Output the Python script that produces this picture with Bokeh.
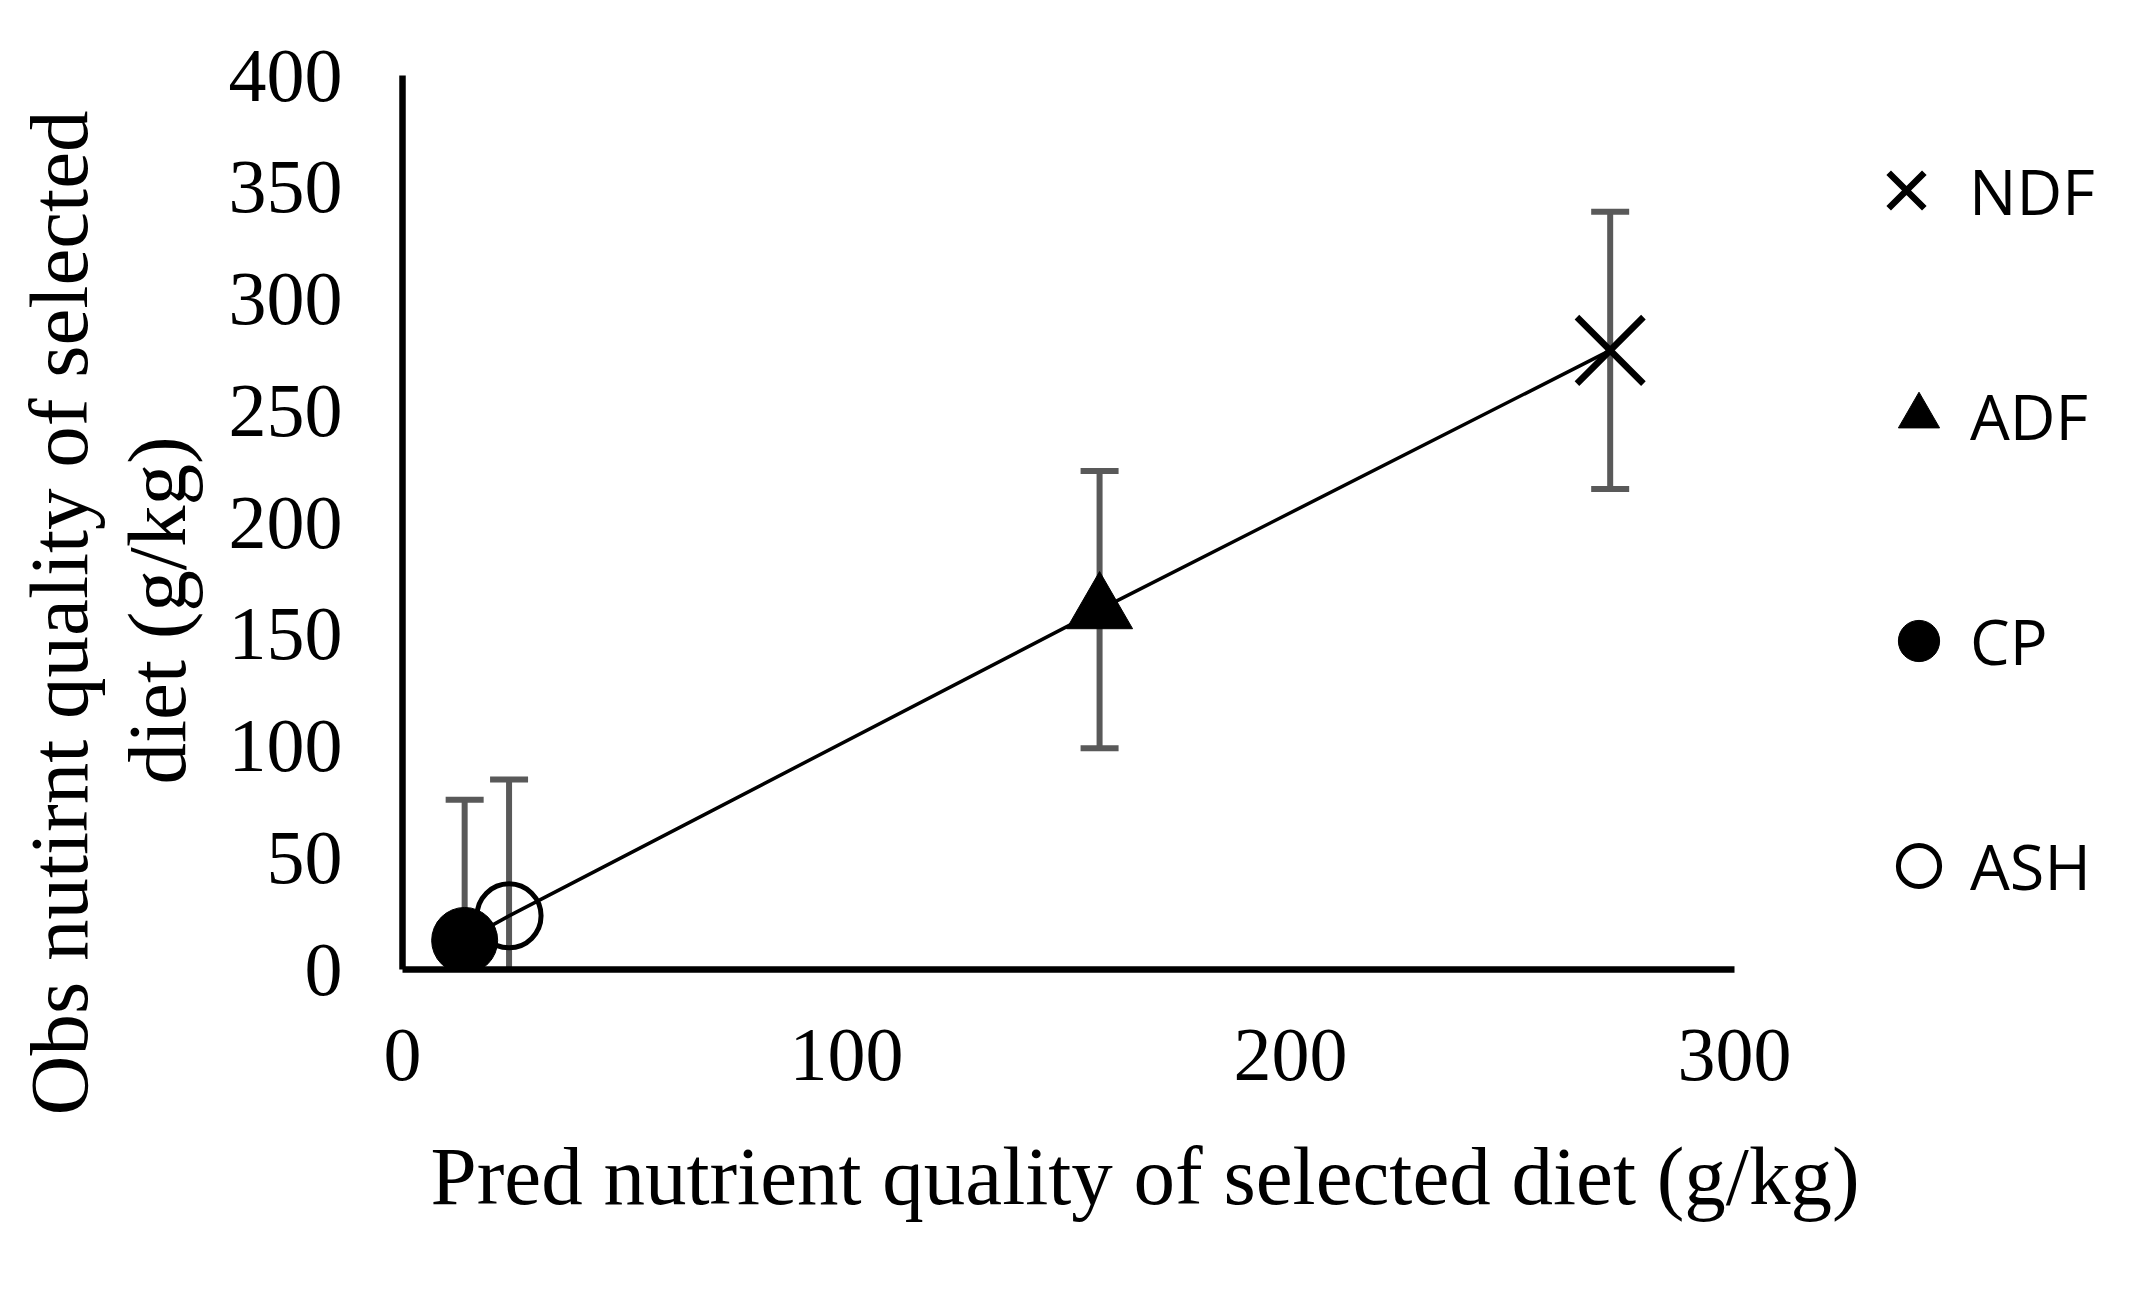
import numpy as np
from bokeh.plotting import figure
from bokeh.models import Range1d, FixedTicker, Title, Legend, LegendItem, ColumnDataSource
from bokeh.embed import file_html
from bokeh.resources import INLINE

# ---- data ----
nutrients = ["NDF", "ADF", "CP", "ASH"]
pred = [272, 157, 14, 24]      # predicted (g/kg)
obs = [277, 161, 13, 24]       # observed (g/kg)
err = [62, 62, 63, 61]         # error bar half-width
x_ticks = [0, 100, 200, 300]
y_ticks = [0, 50, 100, 150, 200, 250, 300, 350, 400]
x_title = "Pred nutrient quality of selected diet (g/kg)"
y_title_lines = ["Obs nutirnt quality of selected", "diet (g/kg)"]

SERIF = "Liberation Serif"
SANS = "Open Sans"
BAR = "#595959"

# ---- layout (pixels) ----
W, H = 2126, 1286
LEFT, TOP, BOTTOM = 402, 75, 317
AXIS_PX = 1332                  # pixel length of the 0..300 x axis
X_AXIS_MAX = 300
# the frame runs on to the right edge so the legend can sit inside it;
# the x axis itself is bounded to 0..300
x_end = X_AXIS_MAX * (W - LEFT) / AXIS_PX

p = figure(width=W, height=H, output_backend="svg", toolbar_location=None,
           x_range=Range1d(0, x_end), y_range=Range1d(0, 400),
           min_border_left=LEFT, min_border_right=0,
           min_border_top=TOP, min_border_bottom=BOTTOM)
p.background_fill_color = "white"
p.border_fill_color = "white"
p.outline_line_color = None
p.grid.visible = False

for ax in (p.xaxis, p.yaxis):
    ax.axis_line_width = 6.5
    ax.axis_line_color = "black"
    ax.major_tick_line_color = None
    ax.minor_tick_line_color = None
    ax.major_tick_out = 0
    ax.major_tick_in = 0
    ax.major_label_text_font = SERIF
    ax.major_label_text_font_size = "76px"
    ax.major_label_text_color = "black"
p.xaxis.ticker = FixedTicker(ticks=x_ticks)
p.xaxis.bounds = (0, X_AXIS_MAX)
p.yaxis.ticker = FixedTicker(ticks=y_ticks)
p.xaxis.major_label_standoff = 60
p.yaxis.major_label_standoff = 60

# ---- error bars ----
pred_a = np.array(pred, dtype=float)
obs_a = np.array(obs, dtype=float)
err_a = np.array(err, dtype=float)
eb = ColumnDataSource(dict(x=pred_a, lo=obs_a - err_a, hi=obs_a + err_a))
p.segment(x0="x", y0="lo", x1="x", y1="hi", source=eb, line_color=BAR, line_width=6)
p.scatter(x="x", y="hi", source=eb, marker="dash", size=38, line_color=BAR, line_width=6)
p.scatter(x="x", y="lo", source=eb, marker="dash", size=38, line_color=BAR, line_width=6)

# ---- connecting line ----
order = np.argsort(pred_a)
p.line(pred_a[order], obs_a[order], line_color="black", line_width=3.5)

# ---- markers ----
styles = {
    "NDF": dict(marker="x", size=94, line_color="black", line_width=6.5),
    "ADF": dict(marker="triangle", size=66, fill_color="black", line_color="black"),
    "CP": dict(marker="circle", size=66, fill_color="black", line_color="black"),
    "ASH": dict(marker="circle", size=64, fill_color=None, line_color="black", line_width=5),
}
rends = {}
for i, name in enumerate(nutrients):
    rends[name] = p.scatter([pred[i]], [obs[i]], **styles[name])

common = dict(padding=0, margin=0, label_text_font=SANS, label_text_font_size="63px",
              label_text_color="black", border_line_color=None, background_fill_alpha=0,
              label_standoff=0)
leg_x = Legend(items=[LegendItem(label="NDF", renderers=[rends["NDF"]])],
               location=(1441, 716), glyph_width=126, glyph_height=126, **common)
leg_rest = Legend(items=[LegendItem(label=n, renderers=[rends[n]]) for n in ["ADF", "CP", "ASH"]],
                  location=(1465, 52.5), glyph_width=103, glyph_height=103,
                  spacing=122, **common)
p.add_layout(leg_x)
p.add_layout(leg_rest)

# ---- axis titles ----
p.add_layout(Title(text=x_title, align="left", offset=28, standoff=90,
                   vertical_align="bottom", text_font=SERIF, text_font_size="83px",
                   text_font_style="normal", text_color="black"), "below")
p.add_layout(Title(text=y_title_lines[1], align="left", offset=185, standoff=46,
                   vertical_align="bottom", text_font=SERIF, text_font_size="83px",
                   text_font_style="normal", text_color="black"), "left")
p.add_layout(Title(text=y_title_lines[0], align="left", offset=-146, standoff=-38,
                   vertical_align="bottom", text_font=SERIF, text_font_size="83px",
                   text_font_style="normal", text_color="black"), "left")

open("out.html", "w").write(file_html(p, INLINE))
